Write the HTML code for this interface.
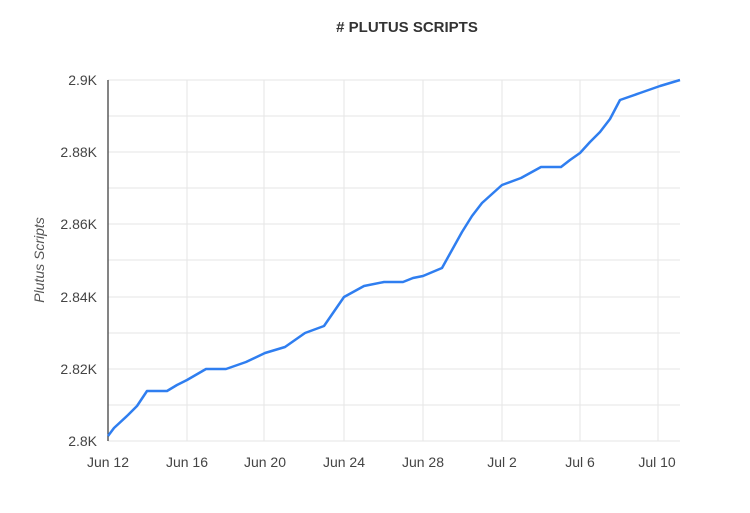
<!DOCTYPE html>
<html><head><style>
body{margin:0;background:#fff;width:750px;height:508px;overflow:hidden;font-family:"Liberation Sans",sans-serif;}
</style></head><body>
<svg width="750" height="508" xmlns="http://www.w3.org/2000/svg" font-family="Liberation Sans, sans-serif">
<text x="407" y="32" text-anchor="middle" font-size="15" font-weight="bold" fill="#333">#  PLUTUS SCRIPTS</text>
<g stroke="#e6e6e6" stroke-width="1">
<line x1="108" x2="680" y1="80" y2="80"/><line x1="108" x2="680" y1="116" y2="116"/>
<line x1="108" x2="680" y1="152" y2="152"/><line x1="108" x2="680" y1="188" y2="188"/>
<line x1="108" x2="680" y1="224" y2="224"/><line x1="108" x2="680" y1="260" y2="260"/>
<line x1="108" x2="680" y1="297" y2="297"/><line x1="108" x2="680" y1="333" y2="333"/>
<line x1="108" x2="680" y1="369" y2="369"/><line x1="108" x2="680" y1="405" y2="405"/>
<line x1="108" x2="680" y1="441" y2="441"/>
<line x1="187" x2="187" y1="80" y2="441"/><line x1="264" x2="264" y1="80" y2="441"/>
<line x1="344" x2="344" y1="80" y2="441"/><line x1="423" x2="423" y1="80" y2="441"/>
<line x1="502" x2="502" y1="80" y2="441"/><line x1="580" x2="580" y1="80" y2="441"/>
<line x1="658" x2="658" y1="80" y2="441"/>
</g>
<line x1="108" x2="108" y1="80" y2="441" stroke="#333" stroke-width="1.2"/>
<g font-size="14" fill="#444" text-anchor="end">
<text x="97" y="85">2.9K</text><text x="97" y="157">2.88K</text><text x="97" y="229">2.86K</text>
<text x="97" y="302">2.84K</text><text x="97" y="374">2.82K</text><text x="97" y="446">2.8K</text>
</g>
<g font-size="14" fill="#444" text-anchor="middle">
<text x="108" y="467">Jun 12</text><text x="187" y="467">Jun 16</text><text x="265" y="467">Jun 20</text>
<text x="344" y="467">Jun 24</text><text x="423" y="467">Jun 28</text><text x="502" y="467">Jul 2</text>
<text x="580" y="467">Jul 6</text><text x="657" y="467">Jul 10</text>
</g>
<text transform="translate(44,260) rotate(-90)" text-anchor="middle" font-size="14" font-style="italic" fill="#555">Plutus Scripts</text>
<polyline fill="none" stroke="#2f7ef0" stroke-width="2.5" stroke-linejoin="round"
points="108,436 114,428 128,415 137,406 147,391 167,391 177,385 187,380 206,369 226,369 246,362 265,353 285,347 295,340 305,333 324,326 344,297 364,286 384,282 403,282 413,278 423,276 442,268 452,250 462,232 472,216 482,203 492,194 502,185 521,178 541,167 561,167 570,160 580,153 590,142 600,132 610,119 620,100 640,93 660,86 680,80"/>
</svg>
</body></html>
